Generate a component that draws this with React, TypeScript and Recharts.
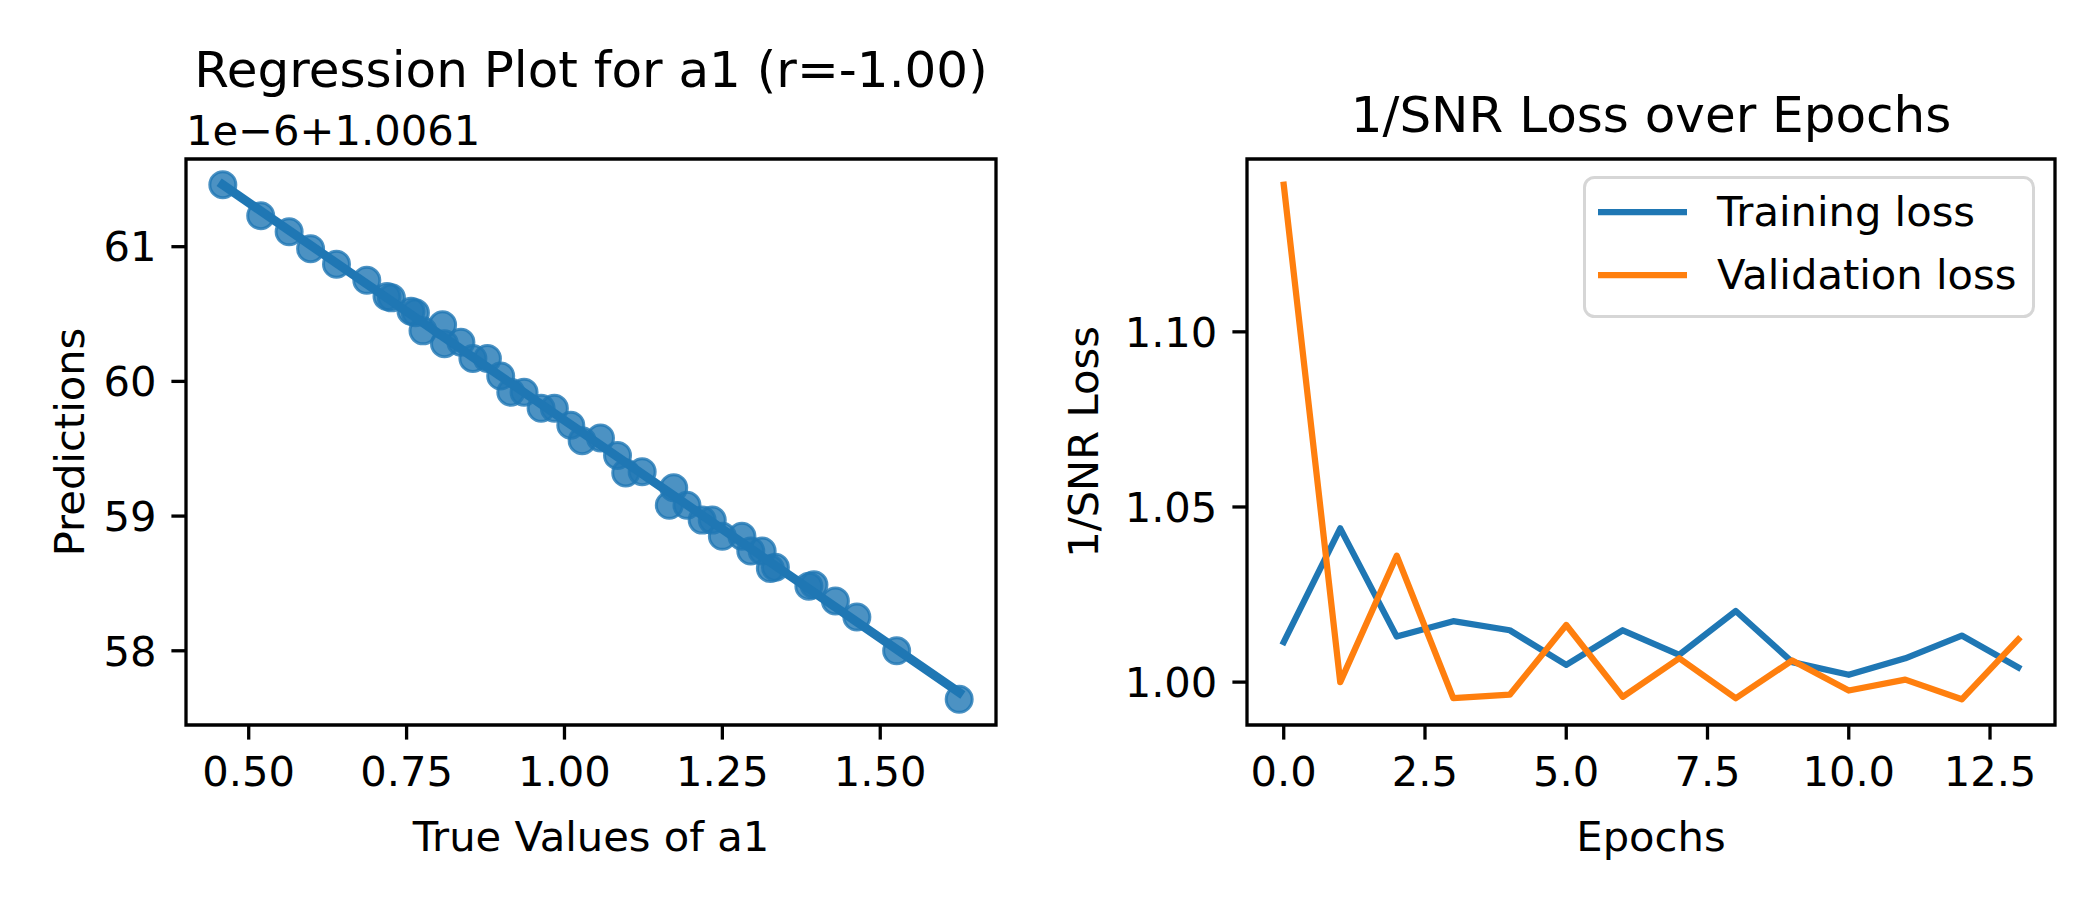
import React from "react";
import {
  ScatterChart,
  Scatter,
  LineChart,
  Line,
  XAxis,
  YAxis,
  ReferenceArea,
  Legend,
} from "recharts";

// Regression plot: true a1 values vs predictions (offset 1e-6 + 1.0061)
const trueValues = [
  0.459, 0.519, 0.564, 0.598, 0.639, 0.687, 0.719, 0.726, 0.757, 0.764, 0.776,
  0.807, 0.81, 0.836, 0.855, 0.878, 0.899, 0.915, 0.936, 0.963, 0.984, 1.01,
  1.028, 1.057, 1.084, 1.097, 1.123, 1.166, 1.173, 1.194, 1.218, 1.234, 1.25,
  1.281, 1.295, 1.313, 1.326, 1.334, 1.387, 1.395, 1.429, 1.463, 1.526, 1.625,
];
const predictions = [
  61.46, 61.23, 61.11, 60.985, 60.87, 60.75, 60.63, 60.62, 60.52, 60.51, 60.375,
  60.42, 60.28, 60.29, 60.17, 60.17, 60.04, 59.92, 59.92, 59.8, 59.8, 59.675,
  59.56, 59.58, 59.45, 59.32, 59.33, 59.08, 59.21, 59.08, 58.97, 58.97, 58.85,
  58.85, 58.74, 58.74, 58.61, 58.62, 58.48, 58.49, 58.37, 58.25, 58.0, 57.64,
];
const regXTicks = [0.5, 0.75, 1.0, 1.25, 1.5];
const regYTicks = [58, 59, 60, 61];

// Loss curves
const epochs = [0, 1, 2, 3, 4, 5, 6, 7, 8, 9, 10, 11, 12, 13];
const trainingLoss = [
  1.0114, 1.0439, 1.013, 1.0174, 1.0148, 1.0049, 1.0148, 1.0078, 1.0203, 1.0057,
  1.0021, 1.0068, 1.0133, 1.0042,
];
const validationLoss = [
  1.142, 1.0, 1.0361, 0.9954, 0.9964, 1.0163, 0.9958, 1.0068, 0.9954, 1.0062,
  0.9976, 1.0007, 0.9951, 1.0122,
];
const lossXTicks = [0, 2.5, 5, 7.5, 10, 12.5];
const lossYTicks = [1.0, 1.05, 1.1];

const BLUE = "#1f77b4";
const ORANGE = "#ff7f0e";
const FONT = "DejaVu Sans";
const TICK_FS = 41.67;
const SPINE = 3.3;

// matplotlib-style 5% margins
const pad = (vals: number[]): [number, number] => {
  const lo = Math.min(...vals);
  const hi = Math.max(...vals);
  const m = (hi - lo) * 0.05;
  return [lo - m, hi + m];
};

const scatterData = trueValues.map((x, i) => ({ x, y: predictions[i] }));

// least squares fit for the regression line
const fitLine = (() => {
  const n = trueValues.length;
  const mx = trueValues.reduce((a, b) => a + b, 0) / n;
  const my = predictions.reduce((a, b) => a + b, 0) / n;
  let sxy = 0;
  let sxx = 0;
  trueValues.forEach((x, i) => {
    sxy += (x - mx) * (predictions[i] - my);
    sxx += (x - mx) * (x - mx);
  });
  const slope = sxy / sxx;
  const x0 = Math.min(...trueValues);
  const x1 = Math.max(...trueValues);
  return [
    { x: x0, y: my + slope * (x0 - mx) },
    { x: x1, y: my + slope * (x1 - mx) },
  ];
})();

const lossData = epochs.map((e, i) => ({
  epoch: e,
  train: trainingLoss[i],
  val: validationLoss[i],
}));

const regX = pad(trueValues);
const regY = pad(predictions);
const lossX = pad(epochs);
const lossY = pad([...trainingLoss, ...validationLoss]);

const tickStyle = { fontSize: TICK_FS, fill: "#000", fontFamily: FONT };
const tickLine = { stroke: "#000", strokeWidth: SPINE };

const Dot = (props: any) => (
  <circle
    cx={props.cx}
    cy={props.cy}
    r={13}
    fill={BLUE}
    fillOpacity={0.8}
    stroke={BLUE}
    strokeOpacity={0.8}
    strokeWidth={3}
  />
);

const LegendBox = () => (
  <svg width={452} height={142}>
    <rect
      x={1.5}
      y={1.5}
      width={449}
      height={139}
      rx={10}
      fill="#fff"
      fillOpacity={0.8}
      stroke="#d6d6d6"
      strokeWidth={3}
    />
    <line x1={15} y1={36} x2={104} y2={36} stroke={BLUE} strokeWidth={6.25} />
    <line x1={15} y1={99} x2={104} y2={99} stroke={ORANGE} strokeWidth={6.25} />
    <text x={134} y={50} fontSize={TICK_FS} fontFamily={FONT} fill="#000">
      Training loss
    </text>
    <text x={134} y={113} fontSize={TICK_FS} fontFamily={FONT} fill="#000">
      Validation loss
    </text>
  </svg>
);

export default function App() {
  return (
    <div
      style={{
        position: "absolute",
        left: 0,
        top: 0,
        width: 2100,
        height: 900,
        background: "#fff",
        fontFamily: FONT,
      }}
    >
      <div style={{ position: "absolute", left: 0, top: 0 }}>
        <ScatterChart
          width={1050}
          height={900}
          margin={{ top: 159, right: 54, bottom: 75, left: 66 }}
        >
          <XAxis
            dataKey="x"
            type="number"
            domain={regX}
            allowDataOverflow
            ticks={regXTicks}
            interval={0}
            tickFormatter={(v: number) => v.toFixed(2)}
            tick={tickStyle}
            tickLine={tickLine}
            tickSize={14.6}
            tickMargin={17}
            axisLine={false}
            height={100}
          />
          <YAxis
            dataKey="y"
            type="number"
            domain={regY}
            allowDataOverflow
            ticks={regYTicks}
            interval={0}
            tick={tickStyle}
            tickLine={tickLine}
            tickSize={14.6}
            tickMargin={15}
            axisLine={false}
            width={120}
          />
          <Scatter
            data={scatterData}
            shape={Dot}
            isAnimationActive={false}
          />
          <Scatter
            data={fitLine}
            shape={() => <g />}
            line={{ stroke: BLUE, strokeWidth: 9, strokeLinecap: "square" }}
            isAnimationActive={false}
          />
          <ReferenceArea
            x1={regX[0]}
            x2={regX[1]}
            y1={regY[0]}
            y2={regY[1]}
            fill="none"
            stroke="#000"
            strokeWidth={SPINE}
            ifOverflow="visible"
          />
        </ScatterChart>
      </div>

      <div style={{ position: "absolute", left: 1050, top: 0 }}>
        <LineChart
          width={1050}
          height={900}
          data={lossData}
          margin={{ top: 159, right: 45, bottom: 75, left: 77 }}
        >
          <XAxis
            dataKey="epoch"
            type="number"
            domain={lossX}
            allowDataOverflow
            ticks={lossXTicks}
            interval={0}
            tickFormatter={(v: number) => v.toFixed(1)}
            tick={tickStyle}
            tickLine={tickLine}
            tickSize={14.6}
            tickMargin={17}
            axisLine={false}
            height={100}
          />
          <YAxis
            type="number"
            domain={lossY}
            allowDataOverflow
            ticks={lossYTicks}
            interval={0}
            tickFormatter={(v: number) => v.toFixed(2)}
            tick={tickStyle}
            tickLine={tickLine}
            tickSize={14.6}
            tickMargin={15}
            axisLine={false}
            width={120}
          />
          <Line
            type="linear"
            dataKey="train"
            name="Training loss"
            stroke={BLUE}
            strokeWidth={6.25}
            strokeLinecap="square"
            strokeLinejoin="round"
            dot={false}
            activeDot={false}
            isAnimationActive={false}
          />
          <Line
            type="linear"
            dataKey="val"
            name="Validation loss"
            stroke={ORANGE}
            strokeWidth={6.25}
            strokeLinecap="square"
            strokeLinejoin="round"
            dot={false}
            activeDot={false}
            isAnimationActive={false}
          />
          <ReferenceArea
            x1={lossX[0]}
            x2={lossX[1]}
            y1={lossY[0]}
            y2={lossY[1]}
            fill="none"
            stroke="#000"
            strokeWidth={SPINE}
            ifOverflow="visible"
          />
          <Legend
            layout="horizontal"
            align="center"
            verticalAlign="middle"
            content={() => <LegendBox />}
            wrapperStyle={{
              position: "absolute",
              left: 533,
              top: 176,
              width: 452,
              height: 142,
              margin: 0,
            }}
          />
        </LineChart>
      </div>

      {/* titles and axis labels */}
      <svg
        width={2100}
        height={900}
        style={{ position: "absolute", left: 0, top: 0, pointerEvents: "none" }}
        fontFamily={FONT}
        fill="#000"
      >
        <text x={591} y={87} fontSize={50} textAnchor="middle">
          Regression Plot for a1 (r=-1.00)
        </text>
        <text x={186} y={145} fontSize={TICK_FS}>
          1e−6+1.0061
        </text>
        <text x={591} y={851} fontSize={TICK_FS} textAnchor="middle">
          True Values of a1
        </text>
        <text
          x={84}
          y={442}
          fontSize={TICK_FS}
          textAnchor="middle"
          transform="rotate(-90 84 442)"
        >
          Predictions
        </text>
        <text x={1651} y={132} fontSize={50} textAnchor="middle">
          1/SNR Loss over Epochs
        </text>
        <text x={1651} y={851} fontSize={TICK_FS} textAnchor="middle">
          Epochs
        </text>
        <text
          x={1098}
          y={442}
          fontSize={TICK_FS}
          textAnchor="middle"
          transform="rotate(-90 1098 442)"
        >
          1/SNR Loss
        </text>
      </svg>
    </div>
  );
}
